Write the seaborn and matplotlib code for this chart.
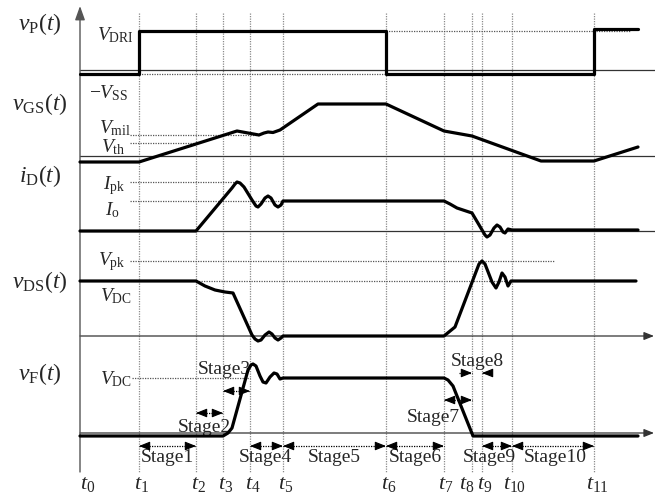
import matplotlib
matplotlib.use("Agg")
import matplotlib.pyplot as plt
import seaborn as sns
import pandas as pd

sns.set_theme(style="white")
plt.rcParams["font.family"] = ["Liberation Serif", "DejaVu Serif"]
plt.rcParams["mathtext.fontset"] = "custom"
plt.rcParams["mathtext.rm"] = "Liberation Serif"
plt.rcParams["mathtext.it"] = "Liberation Serif:italic"
plt.rcParams["mathtext.bf"] = "Liberation Serif:bold"

# ---------------- data (diagram units: x = time, y = level, screen-like) ----
t_times = [80, 139, 196, 223, 250, 283, 386, 444, 472, 482, 512, 594]
t_labels = [rf"$t_{{{i}}}$" for i in range(12)]
t_label_shift = [8, 3, 3, 3, 3, 3, 3, 2, -5, 3, 3, 3]

vp_x = [80, 139, 139, 386, 386, 594, 594, 638]
vp_y = [74, 74, 31, 31, 74, 74, 29, 29]

vgs_x = [80, 139, 237, 259, 264, 268, 273, 280, 318, 386, 444, 472, 541, 594, 638]
vgs_y = [162, 162, 131, 135, 133, 132, 132.5, 130, 104, 104, 131, 136, 161, 161, 147]

id_x = [80, 196, 232, 235, 237, 240, 244, 252, 256, 258, 261, 265, 268, 271, 275, 278, 281, 283,
        444, 450, 457, 472, 485, 487, 490, 494, 497, 500, 503, 505, 508, 512, 638]
id_y = [231, 231, 188, 184, 182, 183, 187, 200, 206, 207, 204, 198, 196, 198, 205, 207, 205, 201,
        201, 204, 208, 213, 235, 237, 235, 228, 225, 227, 232, 233, 229, 230, 230]

vds_x = [80, 196, 205, 215, 225, 233, 252, 255, 258, 261, 265, 269, 272, 275, 278, 281, 283,
         444, 455, 479, 482, 485, 492, 496, 499, 502, 505, 508, 511, 636]
vds_y = [281, 281, 286, 290, 292, 293, 335, 339, 341, 340, 335, 332, 334, 338, 340, 338, 336,
         336, 327, 264, 261, 264, 282, 288, 282, 273, 277, 286, 281, 281]

vf_x = [80, 223, 228, 232, 248, 251, 253, 256, 260, 263, 266, 270, 274, 277, 280, 283,
        444, 448, 453, 473, 638]
vf_y = [436, 436, 433, 428, 370, 365, 364, 366, 376, 382, 383, 377, 373, 374, 379, 378,
        378, 380, 386, 436, 436]

signal_names = [r"$v_{\mathrm{P}}(t)$", r"$v_{\mathrm{GS}}(t)$", r"$i_{\mathrm{D}}(t)$",
                r"$v_{\mathrm{DS}}(t)$", r"$v_{\mathrm{F}}(t)$"]
signal_label_y = [24, 104, 176, 282, 374]
axis_rows = [70, 156, 231, 336, 433]
axis_has_arrow = [False, False, False, True, True]

level_names = [r"$V_{\mathrm{DRI}}$", r"$-V_{\mathrm{SS}}$", r"$V_{\mathrm{mil}}$", r"$V_{\mathrm{th}}$",
               r"$I_{\mathrm{pk}}$", r"$I_{\mathrm{o}}$", r"$V_{\mathrm{pk}}$", r"$V_{\mathrm{DC}}$",
               r"$V_{\mathrm{DC}}$"]
level_label_x = [115, 109, 115, 113, 114, 112, 112, 116, 116]
level_label_y = [35, 93, 128, 147, 186, 210, 262, 296, 379]

# reference dotted lines: (y, x_start, x_end)
ref_y = [74, 31, 135, 143, 182, 201, 261, 281, 378]
ref_x0 = [139, 386, 130, 130, 130, 130, 130, 196, 132]
ref_x1 = [386, 630, 260, 197, 237, 283, 554, 512, 250]

stage_names = [f"Stage{i}" for i in range(1, 11)]
stage_from = [1, 2, 3, 4, 5, 6, 7, 8, 9, 10]   # t index start
stage_to = [2, 3, 4, 5, 6, 7, 8, 9, 10, 11]    # t index end
stage_arrow_y = [446, 413, 391, 446, 446, 446, 400, 373, 446, 446]
stage_text_x = [167, 204, 224, 265, 334, 415, 433, 477, 489, 555]
stage_text_y = [458, 428, 369, 458, 458, 458, 417, 362, 458, 458]

# ---------------- figure ----------------
W, H = 655, 496
fig = plt.figure(figsize=(W / 100, H / 100), dpi=100)
ax = fig.add_axes([0, 0, 1, 1])
ax.set_xlim(0, W)
ax.set_ylim(H, 0)
ax.axis("off")

# vertical gray dotted time lines
for tx in t_times[1:]:
    ax.plot([tx, tx], [13, 472], color="#8a8a8a", lw=0.9, ls=(0, (1, 1)), zorder=1)

# horizontal axes
for yy, arr in zip(axis_rows, axis_has_arrow):
    if arr:
        ax.annotate("", xy=(W - 1, yy), xytext=(80, yy),
                    arrowprops=dict(arrowstyle="-|>,head_length=0.5,head_width=0.2",
                                    color="#333333", lw=0.9, shrinkA=0, shrinkB=0), zorder=2)
    else:
        ax.plot([80, W], [yy, yy], color="#333333", lw=0.9, zorder=2)

# vertical axis
ax.annotate("", xy=(80, 6), xytext=(80, 472),
            arrowprops=dict(arrowstyle="-|>,head_length=0.7,head_width=0.25",
                            color="#555555", lw=1.0, shrinkA=0, shrinkB=0), zorder=2)

# reference dotted lines
for yy, x0, x1 in zip(ref_y, ref_x0, ref_x1):
    ax.plot([x0, x1], [yy, yy], color="#555555", lw=0.9, ls=(0, (1, 1)), zorder=1.5)

# waveforms
for xs, ys in [(vp_x, vp_y), (vgs_x, vgs_y), (id_x, id_y), (vds_x, vds_y), (vf_x, vf_y)]:
    df = pd.DataFrame({"t": xs, "v": ys})
    sns.lineplot(data=df, x="t", y="v", sort=False, estimator=None, color="black",
                 lw=2.3, ax=ax, zorder=5)
ax.set_xlim(0, W)
ax.set_ylim(H, 0)
ax.axis("off")

# signal labels
for name, yy in zip(signal_names, signal_label_y):
    ax.text(40, yy, name, fontsize=17, ha="center", va="center")

# level labels
for name, xx, yy in zip(level_names, level_label_x, level_label_y):
    ax.text(xx, yy, name, fontsize=14, ha="center", va="center")

# time labels
for tx, lab, off in zip(t_times, t_labels, t_label_shift):
    ax.text(tx + off, 484, lab, fontsize=16, ha="center", va="center")

# stage arrows
def dotted_arrow(x0, x1, y, heads="both"):
    ax.plot([x0, x1], [y, y], color="black", lw=0.9, ls=(0, (1, 1)), zorder=4)
    hp = dict(arrowstyle="-|>,head_length=0.55,head_width=0.22", color="black",
              lw=0.8, shrinkA=0, shrinkB=0)
    if heads in ("both", "right"):
        ax.annotate("", xy=(x1, y), xytext=(x1 - 7, y), arrowprops=hp, zorder=4)
    if heads in ("both", "left"):
        ax.annotate("", xy=(x0, y), xytext=(x0 + 7, y), arrowprops=hp, zorder=4)

for name, a, b, ay, tx, ty in zip(stage_names, stage_from, stage_to, stage_arrow_y,
                                  stage_text_x, stage_text_y):
    x0, x1 = t_times[a], t_times[b]
    if name == "Stage8":
        dotted_arrow(x0 - 13, x0, ay, heads="right")
        dotted_arrow(x1, x1 + 8, ay, heads="left")
    else:
        dotted_arrow(x0, x1, ay)
    ax.text(tx, ty, name, fontsize=14, ha="center", va="center")

fig.savefig("out.png", dpi=100)
